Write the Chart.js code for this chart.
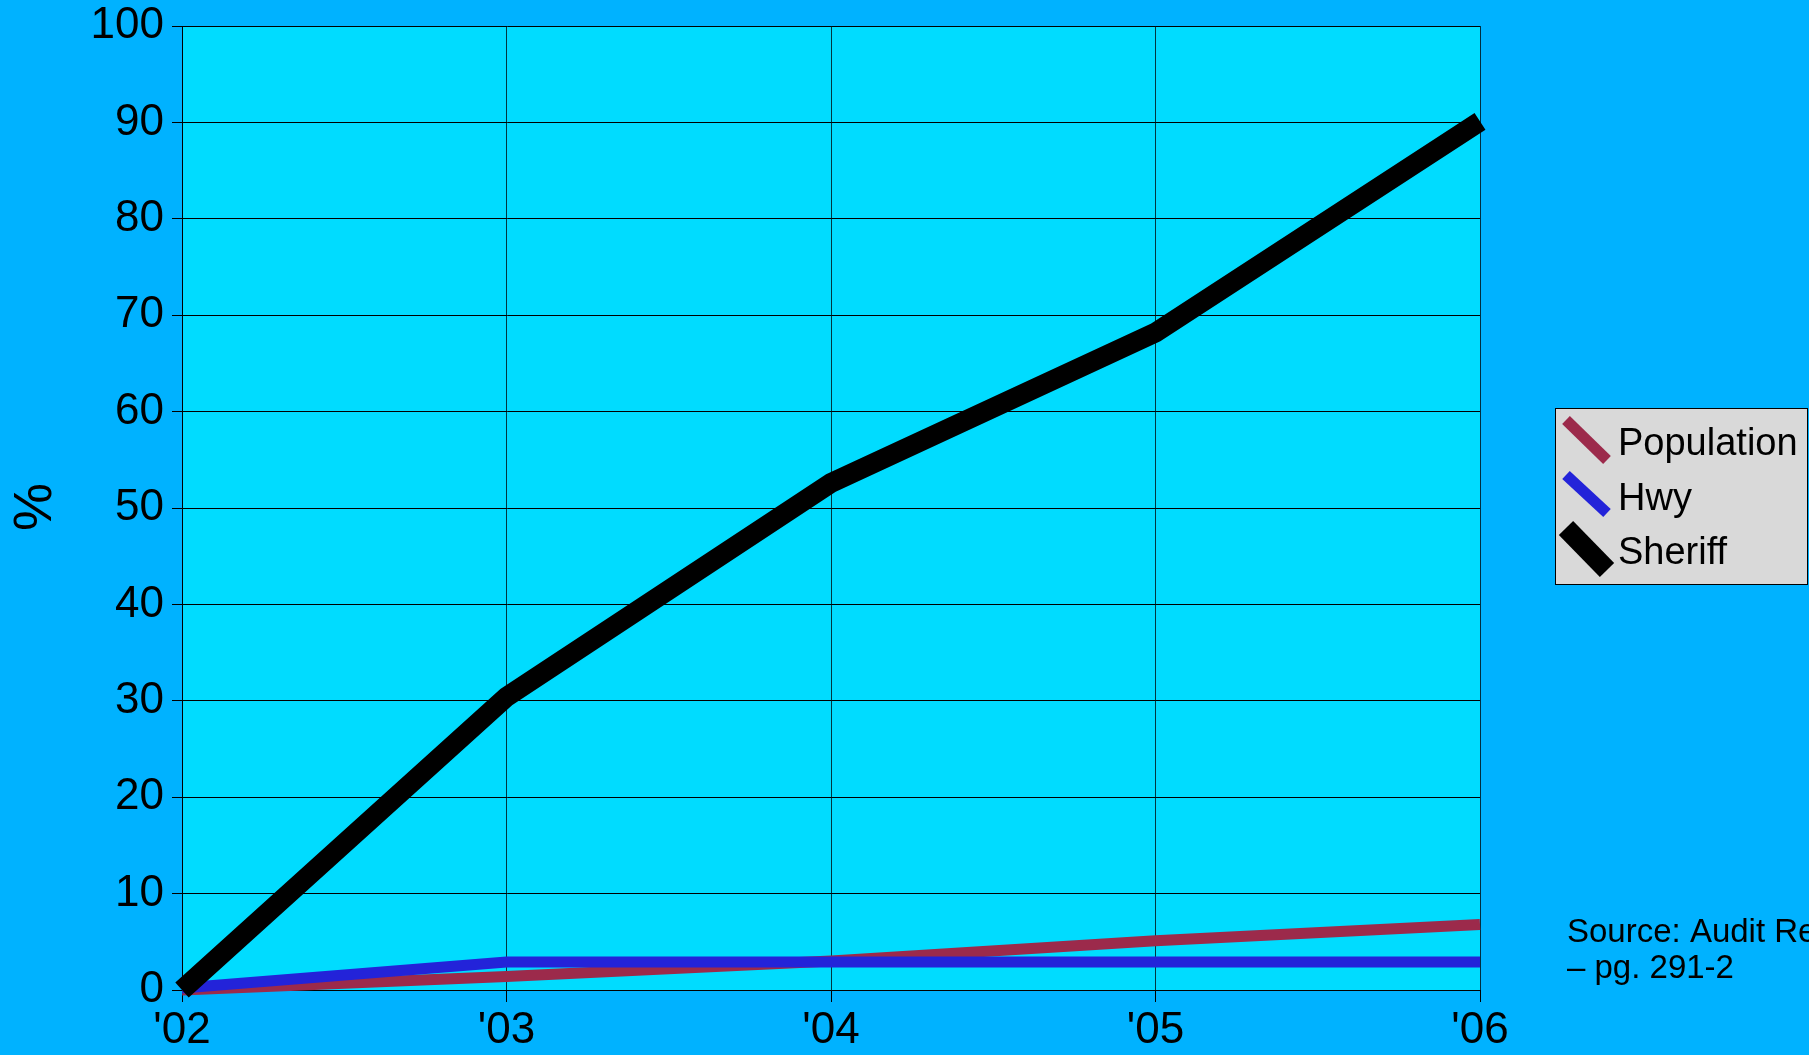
<!DOCTYPE html>
<html>
<head>
<meta charset="utf-8">
<script src="https://cdn.jsdelivr.net/npm/chart.js@4"></script>
<style>
  html, body { margin: 0; padding: 0; background: #00b2ff; overflow: hidden; }
  #wrap { width: 1809px; height: 1055px; position: relative; }
</style>
</head>
<body>
<div id="wrap"><canvas id="chart"></canvas></div>
<script>
// data
const years = ["'02", "'03", "'04", "'05", "'06"];
const population = [0, 1.4, 3.0, 5.1, 6.8];
const hwy = [0.2, 2.9, 2.9, 2.9, 2.9];
const sheriff = [0, 30.4, 52.6, 68.2, 90.1];
const yTicks = [0, 10, 20, 30, 40, 50, 60, 70, 80, 90, 100];

const seriesNames = ["Population", "Hwy", "Sheriff"];
const seriesColors = ["#9c2a4b", "#2323d9", "#000000"];
const seriesWidths = [11, 11, 20];

const FONT = "'Liberation Sans', Arial, sans-serif";

// plot background, legend, source note
const decor = {
  id: "decor",
  beforeDraw(chart) {
    const { ctx, chartArea: a } = chart;
    ctx.save();
    ctx.fillStyle = "#00dcff";
    ctx.fillRect(a.left, a.top, a.right - a.left, a.bottom - a.top);
    ctx.restore();
  },
  afterDraw(chart) {
    const ctx = chart.ctx;
    ctx.save();
    // legend box
    ctx.fillStyle = "#d9d9d9";
    ctx.fillRect(1555, 408, 252, 176);
    ctx.strokeStyle = "#000";
    ctx.lineWidth = 1;
    ctx.strokeRect(1555.5, 408.5, 252, 176);
    const rows = [[420, 460, 455], [475, 513, 510], [528, 570, 564]];
    seriesNames.forEach((name, i) => {
      const [y0, y1, base] = rows[i];
      ctx.strokeStyle = seriesColors[i];
      ctx.lineWidth = seriesWidths[i];
      ctx.lineCap = "butt";
      ctx.beginPath();
      ctx.moveTo(1566, y0);
      ctx.lineTo(1607, y1);
      ctx.stroke();
      ctx.fillStyle = "#000";
      ctx.font = "38px " + FONT;
      ctx.textBaseline = "alphabetic";
      ctx.fillText(name, 1618, base);
    });
    // source note, cut off by the right edge as in the original
    ctx.font = "33px " + FONT;
    ctx.fillText("Source: Audit Report", 1567, 942);
    ctx.fillText("\u2013 pg. 291-2", 1567, 978);
    // axis title
    ctx.translate(36, 507);
    ctx.rotate(-Math.PI / 2);
    ctx.font = "54px " + FONT;
    ctx.textAlign = "center";
    ctx.textBaseline = "middle";
    ctx.fillText("%", 0, 0);
    ctx.restore();
  }
};

const datasets = seriesNames.map((name, i) => ({
  label: name,
  data: [population, hwy, sheriff][i],
  borderColor: seriesColors[i],
  backgroundColor: seriesColors[i],
  borderWidth: seriesWidths[i],
  pointRadius: 0,
  tension: 0,
  clip: false,
  order: 2 - i
}));

new Chart(document.getElementById("chart"), {
  type: "line",
  data: { labels: years, datasets: datasets },
  plugins: [decor],
  options: {
    responsive: true,
    maintainAspectRatio: false,
    animation: false,
    layout: { padding: { left: 0, right: 329, top: 26, bottom: 0 } },
    plugins: { legend: { display: false }, tooltip: { enabled: false } },
    scales: {
      x: {
        offset: false,
        grid: { color: "rgba(0,0,0,0.75)", lineWidth: 1, tickLength: 12, tickColor: "#000" },
        border: { color: "#000", width: 1 },
        ticks: { color: "#000", font: { family: FONT, size: 44 }, padding: 2, maxRotation: 0 },
        afterFit(s) { s.height = 65; s.paddingLeft = 0; s.paddingRight = 0; }
      },
      y: {
        min: 0,
        max: 100,
        afterBuildTicks(s) { s.ticks = yTicks.map(v => ({ value: v })); },
        grid: { color: "#000", lineWidth: 1, tickLength: 10, tickColor: "#000" },
        border: { color: "#000", width: 1 },
        ticks: { color: "#000", font: { family: FONT, size: 44 }, padding: 8 },
        afterFit(s) { s.width = 182; s.paddingTop = 0; s.paddingBottom = 0; }
      }
    }
  }
});
</script>
</body>
</html>
